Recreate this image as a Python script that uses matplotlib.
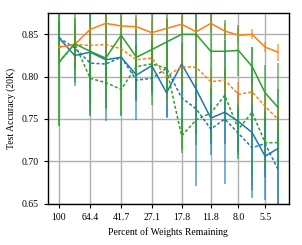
import matplotlib
matplotlib.use("Agg")
import matplotlib.pyplot as plt
import numpy as np

plt.rcParams['font.family'] = ['Liberation Serif', 'DejaVu Serif']

# percent of weights remaining at each pruning round
pct = [100, 80.2, 64.4, 51.8, 41.7, 33.6, 27.1, 22.0, 17.8, 14.5, 11.8, 9.7, 8.0, 6.6, 5.5, 4.6]
xtick_vals = [100, 64.4, 41.7, 27.1, 17.8, 11.8, 8.0, 5.5]
xtick_labels = ['100', '64.4', '41.7', '27.1', '17.8', '11.8', '8.0', '5.5']

blue_solid = [0.846, 0.825, 0.829, 0.820, 0.823, 0.802, 0.813, 0.781, 0.815, 0.785, 0.751, 0.758, 0.747, 0.734, 0.706, 0.715]
blue_solid_err = [0.019, 0.033, 0.075, 0.072, 0.030, 0.053, 0.030, 0.030, 0.025, 0.114, 0.030, 0.085, 0.035, 0.077, 0.052, 0.070]
blue_dash = [0.846, 0.834, 0.816, 0.815, 0.823, 0.796, 0.798, 0.810, 0.775, 0.762, 0.738, 0.750, 0.733, 0.716, 0.721, 0.691]
blue_dash_err = [0.019, 0.020, 0.025, 0.025, 0.020, 0.025, 0.020, 0.058, 0.040, 0.030, 0.030, 0.030, 0.030, 0.050, 0.040, 0.045]

orange_solid = [0.835, 0.838, 0.856, 0.863, 0.860, 0.859, 0.852, 0.857, 0.862, 0.853, 0.863, 0.854, 0.849, 0.850, 0.835, 0.829]
orange_solid_err = [0.010, 0.028, 0.010, 0.015, 0.010, 0.010, 0.015, 0.012, 0.010, 0.012, 0.010, 0.010, 0.008, 0.006, 0.006, 0.010]
orange_dash = [0.835, 0.838, 0.837, 0.838, 0.833, 0.820, 0.822, 0.800, 0.812, 0.811, 0.794, 0.796, 0.779, 0.782, 0.765, 0.750]
orange_dash_err = [0.010, 0.020, 0.020, 0.015, 0.015, 0.015, 0.020, 0.030, 0.020, 0.020, 0.015, 0.015, 0.015, 0.015, 0.015, 0.015]

green_solid = [0.817, 0.839, 0.830, 0.822, 0.849, 0.823, 0.832, 0.841, 0.850, 0.850, 0.830, 0.830, 0.831, 0.812, 0.781, 0.764]
green_solid_err = [0.075, 0.050, 0.075, 0.060, 0.095, 0.050, 0.066, 0.070, 0.135, 0.070, 0.050, 0.037, 0.030, 0.023, 0.033, 0.052]
green_dash = [0.817, 0.839, 0.798, 0.793, 0.785, 0.812, 0.815, 0.810, 0.730, 0.749, 0.757, 0.778, 0.738, 0.758, 0.722, 0.722]
green_dash_err = [0.075, 0.030, 0.030, 0.030, 0.030, 0.025, 0.025, 0.030, 0.020, 0.030, 0.030, 0.030, 0.030, 0.077, 0.030, 0.030]

fig = plt.figure(figsize=(3.02, 2.45), dpi=100)
ax = fig.add_axes([0.159, 0.169, 0.797, 0.777])

short_dash = (0, (2, 1.4))
series = [
    (blue_solid, blue_solid_err, 'tab:blue', '-'),
    (blue_dash, blue_dash_err, 'tab:blue', short_dash),
    (orange_solid, orange_solid_err, 'tab:orange', '-'),
    (orange_dash, orange_dash_err, 'tab:orange', short_dash),
    (green_solid, green_solid_err, 'tab:green', '-'),
    (green_dash, green_dash_err, 'tab:green', short_dash),
]
for y, err, c, ls in series:
    line, caps, bars = ax.errorbar(pct, y, yerr=err, color=c, linewidth=1.1,
                                   elinewidth=1.1, capsize=0)
    line.set_linestyle(ls)
    for b in bars:
        b.set_alpha(0.75)

ax.set_xscale('log')
ax.invert_xaxis()
ax.set_xticks(xtick_vals)
ax.set_xticklabels(xtick_labels)
ax.xaxis.set_minor_locator(matplotlib.ticker.NullLocator())
ax.set_ylim(0.65, 0.875)
ax.set_yticks([0.65, 0.70, 0.75, 0.80, 0.85])
ax.set_yticklabels(['0.65', '0.70', '0.75', '0.80', '0.85'])
ax.grid(True, color='#b0b0b0', linewidth=1)
ax.set_axisbelow(True)
ax.tick_params(labelsize=7, length=3, width=0.8)
for s in ax.spines.values():
    s.set_linewidth(1)
ax.set_xlabel('Percent of Weights Remaining', fontsize=7, labelpad=4)
ax.set_ylabel('Test Accuracy (20K)', fontsize=7, labelpad=4)

fig.savefig('out.png', dpi=100)
